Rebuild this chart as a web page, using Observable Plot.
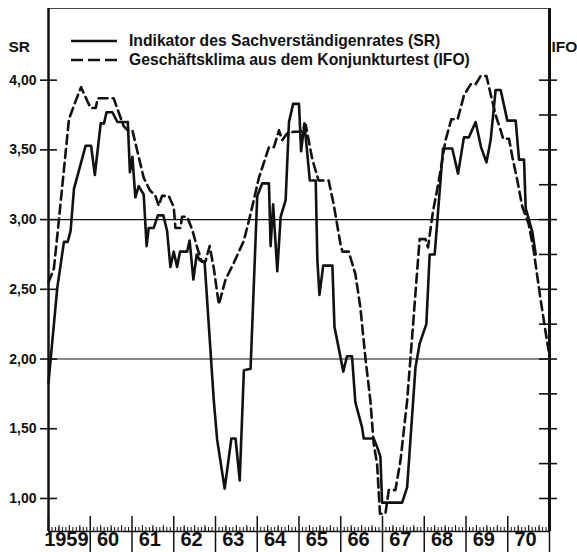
<!DOCTYPE html>
<html><head><meta charset="utf-8">
<script src="https://cdn.jsdelivr.net/npm/d3@7"></script>
<script src="https://cdn.jsdelivr.net/npm/@observablehq/plot@0.6"></script>
<style>
body{margin:0;background:#fff;}
#wrap{position:relative;width:577px;height:552px;font-family:"Liberation Sans",Arial,sans-serif;}
#legend{position:absolute;left:70px;top:31px;font-weight:bold;font-size:15.7px;color:#111;}
.row{display:flex;align-items:center;height:19px;white-space:nowrap;}
.row svg{margin-right:11px;}
</style></head><body><div id="wrap"><div id="legend"></div></div>
<script>
// Indikator des Sachverständigenrates (SR)
const srYears = [1959.00,1959.21,1959.37,1959.46,1959.53,1959.61,1959.89,1960.02,1960.11,1960.25,
1960.33,1960.39,1960.53,1960.65,1960.90,1960.95,1961.01,1961.08,1961.16,1961.28,
1961.35,1961.40,1961.52,1961.62,1961.75,1961.84,1961.92,1962.00,1962.08,1962.15,
1962.32,1962.38,1962.47,1962.55,1962.62,1962.74,1962.96,1963.04,1963.22,1963.38,
1963.48,1963.58,1963.68,1963.84,1964.00,1964.12,1964.28,1964.32,1964.38,1964.48,
1964.56,1964.68,1964.76,1964.86,1965.00,1965.05,1965.13,1965.26,1965.40,1965.44,
1965.49,1965.58,1965.80,1965.85,1965.95,1966.06,1966.15,1966.27,1966.35,1966.51,
1966.55,1966.79,1966.87,1966.95,1966.99,1967.47,1967.59,1967.79,1967.89,1968.05,
1968.13,1968.25,1968.45,1968.67,1968.81,1968.95,1969.07,1969.23,1969.36,1969.49,
1969.59,1969.71,1969.83,1969.99,1970.19,1970.27,1970.39,1970.43,1970.59,1970.67];
const srValues = [1.83,2.51,2.84,2.84,2.92,3.22,3.53,3.53,3.32,3.69,
3.69,3.77,3.77,3.70,3.70,3.34,3.45,3.16,3.24,3.18,
2.81,2.94,2.94,3.03,3.03,2.92,2.66,2.77,2.66,2.77,
2.77,2.85,2.57,2.75,2.71,2.69,1.70,1.42,1.07,1.43,
1.43,1.13,1.92,1.93,3.17,3.26,3.26,2.81,3.11,2.63,
3.02,3.14,3.70,3.83,3.83,3.49,3.69,3.28,3.28,2.71,
2.46,2.67,2.67,2.23,2.08,1.91,2.02,2.02,1.69,1.51,
1.43,1.43,1.37,1.30,0.97,0.97,1.08,1.94,2.11,2.25,
2.75,2.75,3.51,3.51,3.33,3.59,3.59,3.70,3.52,3.41,
3.57,3.93,3.93,3.71,3.71,3.43,3.43,3.08,2.91,2.75];

// Geschäftsklima aus dem Konjunkturtest (IFO)
const ifoYears = [1959.00,1959.13,1959.25,1959.49,1959.65,1959.78,1959.93,1960.01,1960.13,1960.18,
1960.56,1960.68,1960.80,1960.90,1961.01,1961.16,1961.28,1961.43,1961.56,1961.64,
1961.72,1961.88,1962.00,1962.04,1962.16,1962.20,1962.32,1962.44,1962.56,1962.67,
1962.76,1962.86,1962.96,1963.08,1963.24,1963.44,1963.68,1963.84,1964.04,1964.28,
1964.40,1964.52,1964.60,1964.72,1964.88,1965.04,1965.16,1965.32,1965.47,1965.71,
1965.83,1965.99,1966.04,1966.19,1966.35,1966.47,1966.59,1966.71,1966.79,1966.87,
1966.94,1967.07,1967.15,1967.31,1967.43,1967.59,1967.71,1967.83,1967.89,1968.03,
1968.09,1968.21,1968.35,1968.51,1968.65,1968.80,1968.95,1969.11,1969.23,1969.35,
1969.49,1969.59,1969.71,1969.83,1969.89,1970.03,1970.11,1970.23,1970.35,1970.50,
1970.62,1970.78,1970.95,1970.98];
const ifoValues = [2.55,2.65,3.00,3.72,3.85,3.95,3.85,3.80,3.80,3.87,
3.87,3.77,3.67,3.64,3.64,3.45,3.30,3.21,3.17,3.10,
3.17,3.17,3.09,2.94,2.94,3.02,3.02,2.93,2.80,2.70,
2.70,2.81,2.65,2.39,2.57,2.69,2.85,3.04,3.30,3.52,
3.52,3.64,3.57,3.62,3.63,3.63,3.68,3.43,3.28,3.28,
3.11,2.83,2.77,2.77,2.61,2.37,2.01,1.70,1.39,1.25,
0.89,0.89,1.06,1.06,1.27,1.70,2.16,2.63,2.86,2.86,
2.80,3.06,3.28,3.57,3.72,3.72,3.89,3.97,3.97,4.03,
4.03,3.90,3.75,3.64,3.58,3.58,3.45,3.28,3.09,2.97,
2.78,2.44,2.11,2.06];

const years = [1959,1960,1961,1962,1963,1964,1965,1966,1967,1968,1969,1970];
const yearLabels = ["1959","60","61","62","63","64","65","66","67","68","69","70"];
const yTicks = [1.0,1.5,2.0,2.5,3.0,3.5,4.0];
const yTickLabels = ["1,00","1,50","2,00","2,50","3,00","3,50","4,00"];
const rightTicks = [1.0,1.25,1.5,1.75,2.0,2.25,2.5,2.75,3.0,3.25,3.5,3.75,4.0];
const gridLines = [2.0,3.0];
const seriesNames = ["Indikator des Sachverständigenrates (SR)","Geschäftsklima aus dem Konjunkturtest (IFO)"];

const sr = srYears.map((t,i)=>({t, v: srValues[i]}));
const ifo = ifoYears.map((t,i)=>({t, v: ifoValues[i]}));

const W=577,H=552,mL=48,mR=28,mT=8,mB=21;
const fw=W-mL-mR, fh=H-mT-mB;
const xDomain=[1959,1971], yDomain=[0.763,4.514];
const monthTicks = d3.range(1,144).filter(i=>i%12!==0).map(i=>1959+i/12);
const quarterTicks = monthTicks.filter(d=>Math.round((d-1959)*12)%3===0);
const yearEdges = d3.range(1960,1972);
const ink="#111";

const chart = Plot.plot({
  width:W, height:H, marginLeft:mL, marginRight:mR, marginTop:mT, marginBottom:mB,
  x:{domain:xDomain, axis:null},
  y:{domain:yDomain, axis:null},
  style:{background:"#fff", fontFamily:"'Liberation Sans', Arial, sans-serif", color:ink, overflow:"visible"},
  marks:[
    Plot.ruleY(gridLines,{y:d=>d, stroke:ink, strokeWidth:1.1}),
    Plot.ruleY([yDomain[1]],{y:d=>d, stroke:"#444", strokeWidth:1}),
    Plot.ruleY([yDomain[0]],{y:d=>d, stroke:ink, strokeWidth:1.6}),
    Plot.ruleX([xDomain[0]],{x:d=>d, stroke:ink, strokeWidth:2.5}),
    Plot.ruleX([xDomain[1]],{x:d=>d, stroke:ink, strokeWidth:3}),
    Plot.tickY(yTicks,{y:d=>d, insetRight:fw-17, dx:-8, stroke:ink, strokeWidth:1.6}),
    Plot.text(yTicks,{y:d=>d, text:(d,i)=>yTickLabels[i], frameAnchor:"left", textAnchor:"end", dx:-12, fontSize:14, fontWeight:"bold", fill:ink}),
    Plot.tickY(rightTicks,{y:d=>d, insetLeft:fw-18, dx:8, stroke:ink, strokeWidth:1.6}),
    Plot.tickX(monthTicks,{x:d=>d, insetTop:fh-4, stroke:ink, strokeWidth:1}),
    Plot.tickX(quarterTicks,{x:d=>d, insetTop:fh-6, stroke:ink, strokeWidth:1}),
    Plot.tickX([1959],{x:d=>d, insetTop:fh-15, stroke:ink, strokeWidth:1.5}),
    Plot.tickX(yearEdges,{x:d=>d, insetTop:fh-36, dy:21, stroke:ink, strokeWidth:1.5}),
    Plot.text(years,{x:d=>d+0.5, text:(d,i)=>yearLabels[i], frameAnchor:"bottom", dx:-3, dy:14, fontSize:20, fontWeight:"bold", fill:ink}),
    Plot.text(["SR"],{text:d=>d, frameAnchor:"top-left", dx:-40, dy:32, textAnchor:"start", fontSize:15.5, fontWeight:"bold", fill:ink}),
    Plot.text(["IFO"],{text:d=>d, frameAnchor:"top-right", dx:2, dy:32, textAnchor:"start", fontSize:15.5, fontWeight:"bold", fill:ink}),
    Plot.line(ifo,{x:"t", y:"v", stroke:ink, strokeWidth:2.6, strokeDasharray:"9,5"}),
    Plot.line(sr,{x:"t", y:"v", stroke:ink, strokeWidth:2.6})
  ]
});
const wrap=document.getElementById("wrap");
wrap.insertBefore(chart, wrap.firstChild);
const legend=document.getElementById("legend");
legend.innerHTML = seriesNames.map((name,i)=>`<div class="row"><svg width="48" height="8"><line x1="1" y1="4" x2="47" y2="4" stroke="${ink}" stroke-width="2.6" ${i? 'stroke-dasharray="12,5"':''}/></svg><span>${name}</span></div>`).join("");
</script>
</body></html>
